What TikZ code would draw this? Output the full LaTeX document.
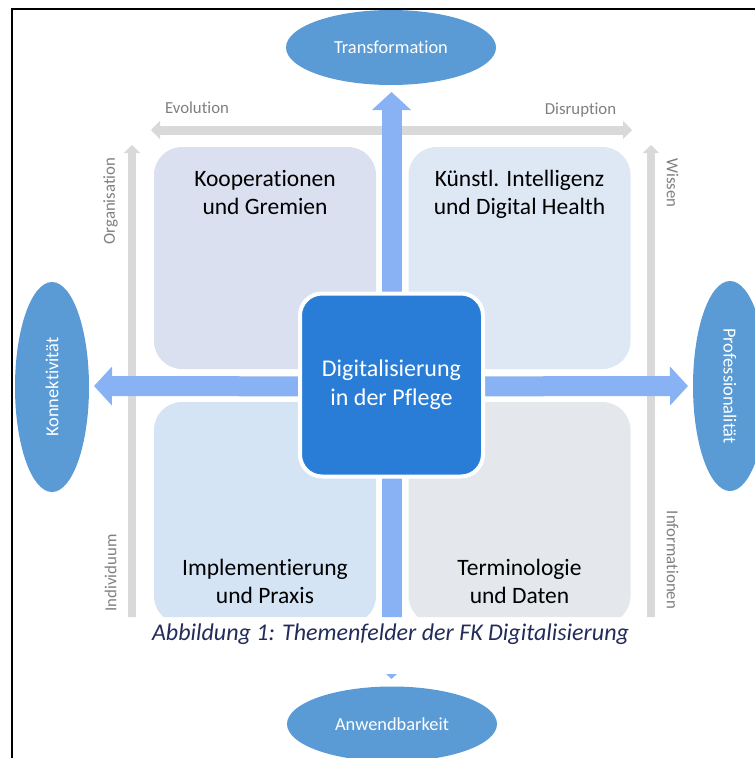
\documentclass[tikz,border=0pt]{standalone}
\usepackage{fontspec}
\setmainfont{Carlito}[Ligatures={NoCommon}]
\usetikzlibrary{arrows.meta,shapes.geometric}

\definecolor{ovalblue}{HTML}{5B9BD5}
\definecolor{arrowblue}{HTML}{88B2F4}
\definecolor{coreblue}{HTML}{2A7DD6}
\definecolor{quadA}{HTML}{DAE0EF}
\definecolor{quadB}{HTML}{DEE8F4}
\definecolor{quadC}{HTML}{D5E4F5}
\definecolor{quadD}{HTML}{E4E7EC}
\definecolor{axisgray}{HTML}{D9D9D9}
\definecolor{labelgray}{HTML}{7F7F7F}
\definecolor{captionnavy}{HTML}{232B5A}

\tikzset{
  quadbox/.style={rounded corners=28pt, minimum width=222pt, minimum height=222pt, inner sep=0pt},
  quadtext/.style={align=center, text=black, font=\fontsize{23.5}{28}\selectfont, inner sep=0pt},
  corebox/.style={fill=coreblue, draw=white, line width=4pt, rounded corners=22pt,
    minimum width=183pt, minimum height=183pt, inner sep=0pt, align=center, text=white,
    font=\fontsize{24}{29}\selectfont},
  oval/.style={ellipse, fill=ovalblue, text=white, inner sep=0pt, font=\fontsize{18.4}{22}\selectfont},
  flatoval/.style={oval, minimum width=210pt, minimum height=75pt},
  tallova/.style={oval, minimum width=74pt, minimum height=210pt},
  bluearrow/.style={draw=arrowblue, line width=20pt, -{Triangle[width=38pt,length=18pt]}},
  grayaxis/.style={draw=axisgray, line width=8pt, -{Triangle[width=16pt,length=8pt]}},
  axislabel/.style={text=labelgray, font=\fontsize{16.8}{20}\selectfont, inner sep=0pt},
}

\begin{document}
\begin{tikzpicture}[x=1pt, y=-1pt]
\useasboundingbox (0,0) rectangle (755,758);

% frame
\draw[line width=2pt, black] (11.5,758) -- (11.5,8.5) -- (755,8.5);

\begin{scope}
  \clip (13,10) rectangle (755,617) (13,674) rectangle (755,758);

  % outer ovals
  \node[flatoval] (trans) at (391,47.5) {Transformation};
  \node[flatoval] (anw) at (392,724) {Anwendbarkeit};
  \node[tallova] (konn) at (52,387) {\rotatebox{90}{Konnektivität}};
  \node[tallova] (prof) at (730,386) {\rotatebox{-90}{Professionalität}};

  % axis arrows
  \coordinate (evo) at (151,130);
  \coordinate (dis) at (632,130);
  \draw[grayaxis, line width=9pt, {Triangle[width=18pt,length=9pt]}-{Triangle[width=18pt,length=9pt]}] (evo) -- (dis);
  \coordinate (orgtop) at (132,145);
  \coordinate (orgbot) at (132,640);
  \draw[grayaxis] (orgbot) -- (orgtop);
  \coordinate (wistop) at (651,145);
  \coordinate (wisbot) at (651,640);
  \draw[grayaxis] (wisbot) -- (wistop);

  \node[axislabel] (lblevo) at (197,108) {Evolution};
  \node[axislabel] (lbldis) at (580.5,110) {Disruption};
  \node[axislabel, rotate=90] (lblorg) at (110.5,201) {Organisation};
  \node[axislabel, rotate=90] (lblind) at (110.5,573) {Individuum};
  \node[axislabel, rotate=-90] (lblwis) at (672.5,183) {Wissen};
  \node[axislabel, rotate=-90] (lblinf) at (672.5,560) {Informationen};

  % quadrants
  \node[quadbox, fill=quadA] (qa) at (265,258) {};
  \node[quadbox, fill=quadB] (qb) at (519.5,258) {};
  \node[quadbox, fill=quadC] (qc) at (265,513) {};
  \node[quadbox, fill=quadD] (qd) at (519.5,513) {};

  \node[quadtext, anchor=north] (qat) at ([yshift=-23pt]qa.north) {Kooperationen\\und Gremien};
  \node[quadtext, anchor=north] (qbt) at ([yshift=-23pt]qb.north) {Künstl. Intelligenz\\und Digital Health};
  \node[quadtext, anchor=south] (qct) at ([yshift=20pt]qc.south) {Implementierung\\und Praxis};
  \node[quadtext, anchor=south] (qdt) at ([yshift=20pt]qd.south) {Terminologie\\und Daten};

  % arrows from the core
  \coordinate (core0) at (391.5,386.5);
  \coordinate (tipN) at (391.5,92);
  \coordinate (tipS) at (391.5,679);
  \coordinate (tipW) at (94,386);
  \coordinate (tipE) at (688,386);
  \draw[bluearrow] (core0) -- (tipN);
  \draw[bluearrow] (core0) -- (tipS);
  \draw[bluearrow] (core0) -- (tipW);
  \draw[bluearrow] (core0) -- (tipE);

  % core box
  \node[corebox] (core) at ([yshift=1.5pt]core0) {Digitalisierung\\in der Pflege};
\end{scope}

% caption
\node[text=captionnavy, font=\fontsize{24}{28}\itshape] (cap) at (390.5,634) {Abbildung 1: Themenfelder der FK Digitalisierung};
\end{tikzpicture}
\end{document}
